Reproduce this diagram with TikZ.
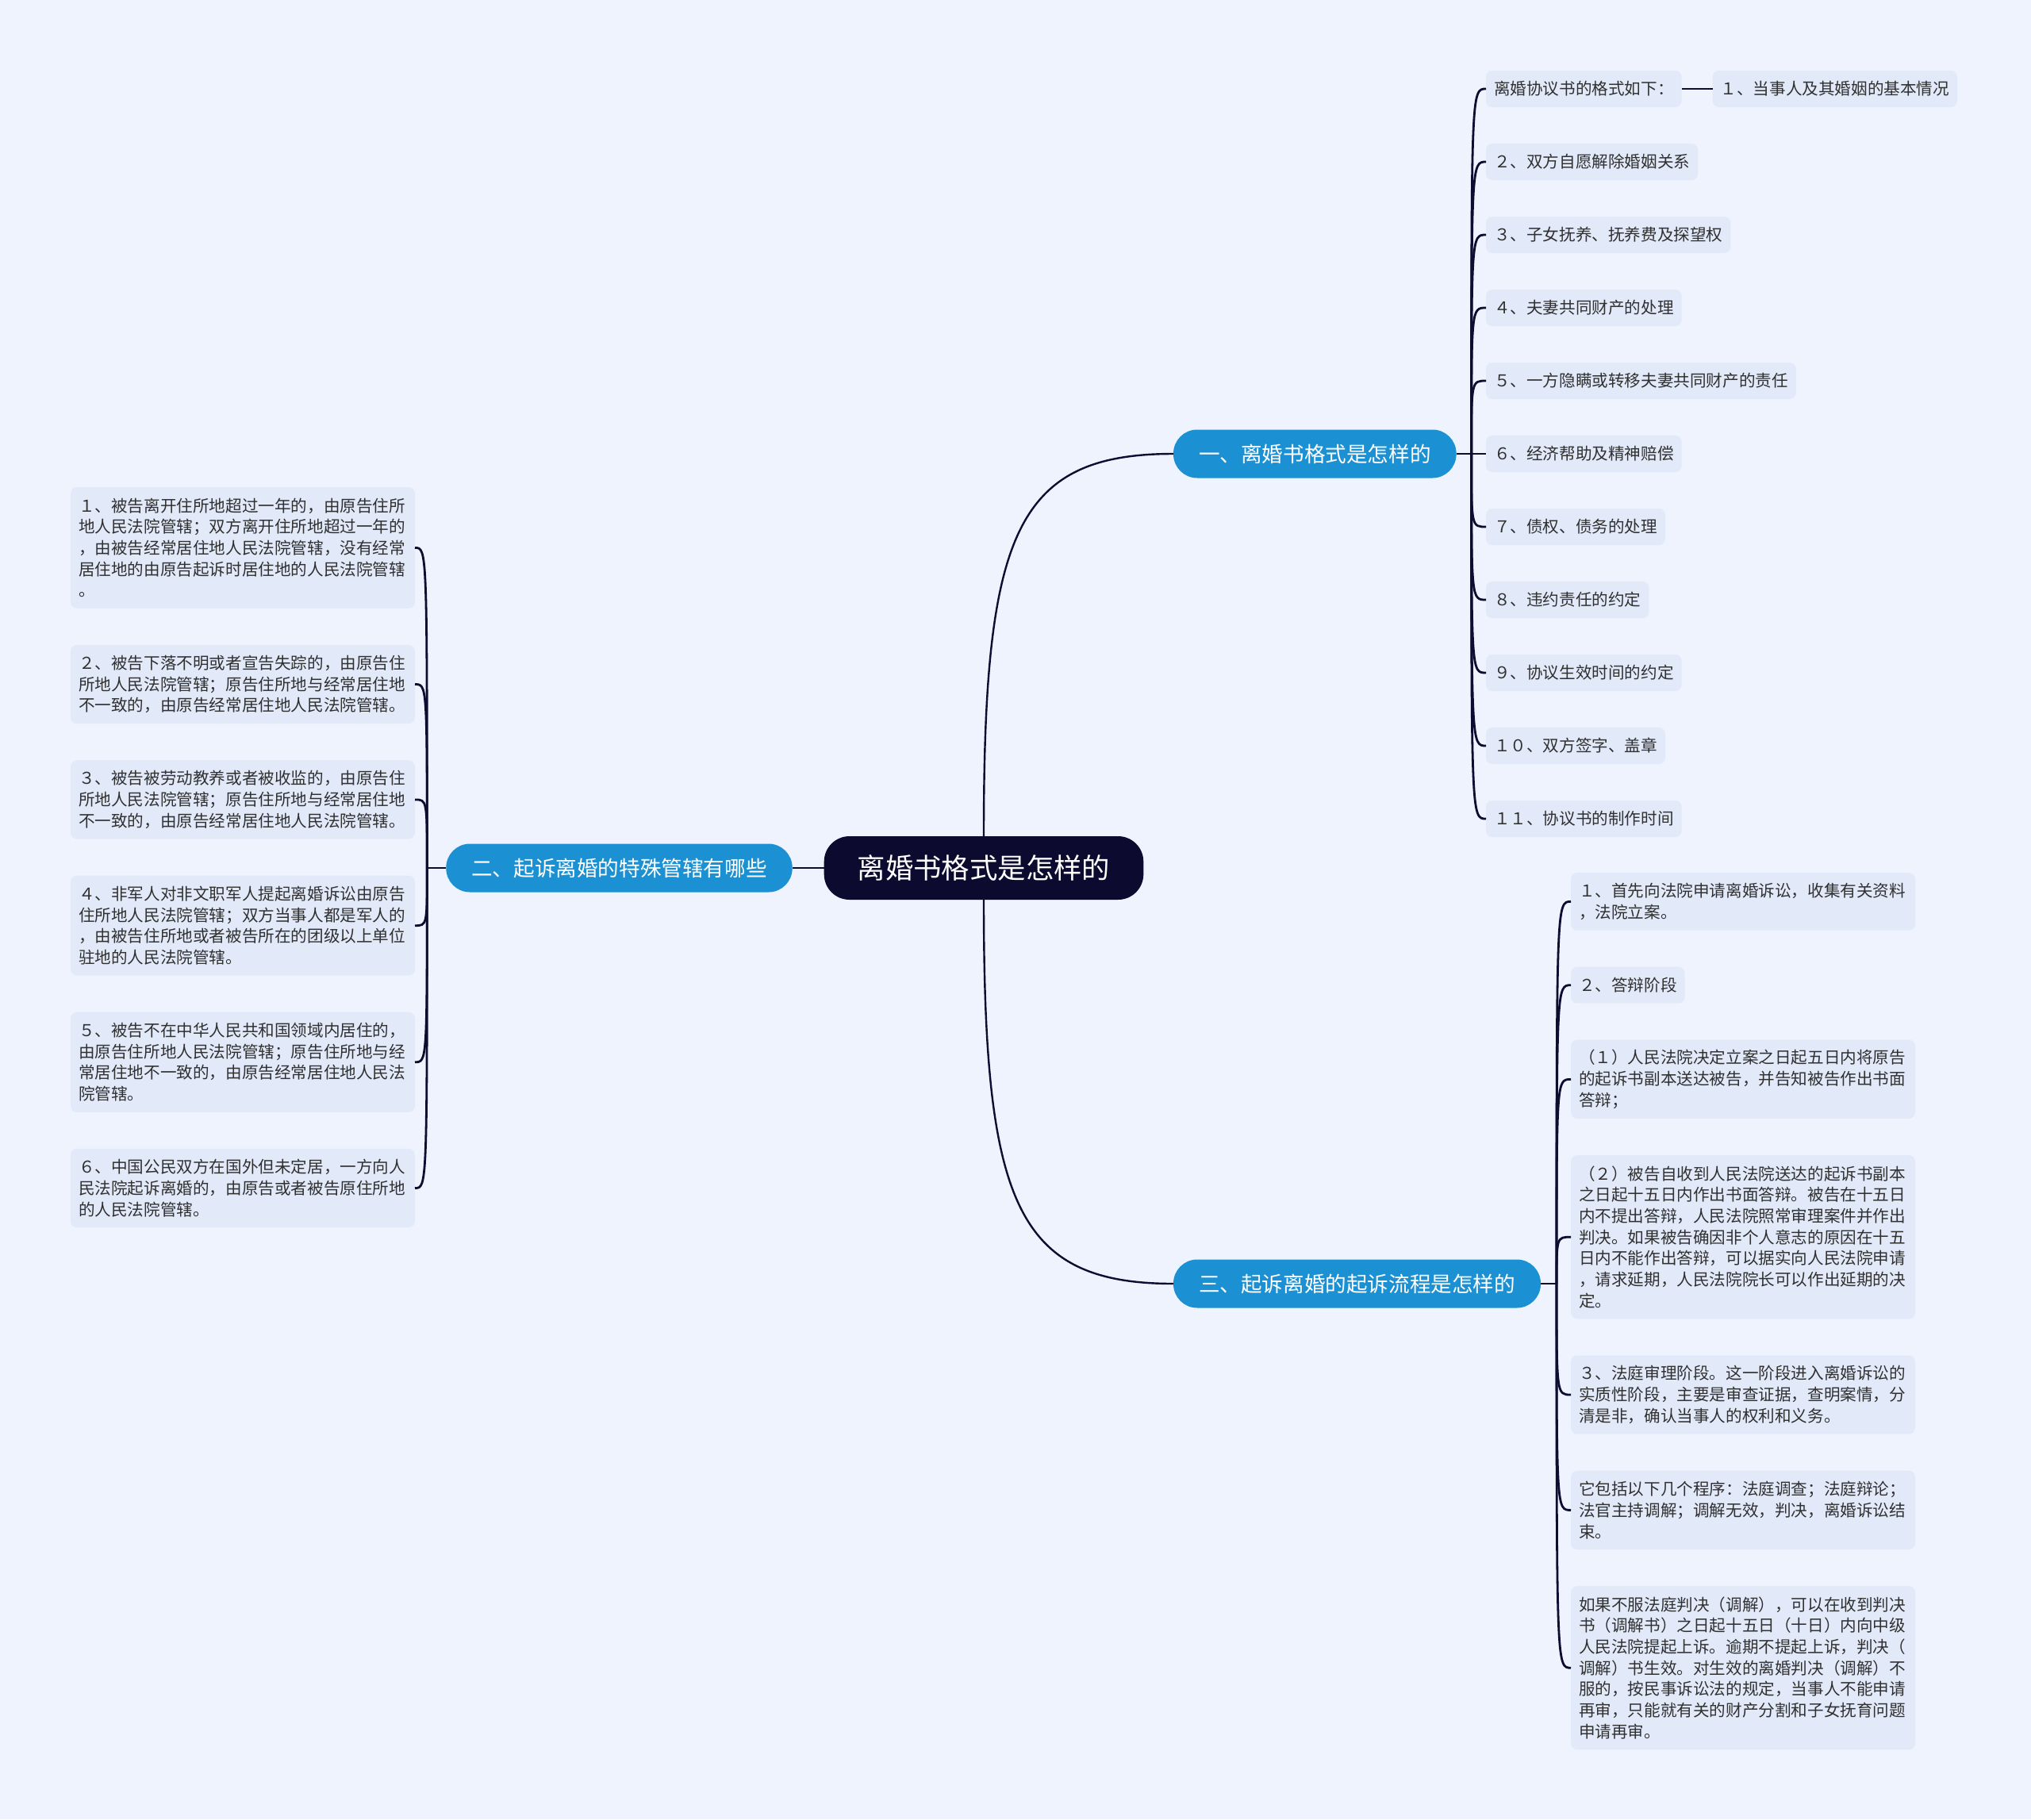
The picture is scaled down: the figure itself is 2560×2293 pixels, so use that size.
\documentclass[tikz,border=0pt]{standalone}
\usepackage{fontspec}
\newfontfamily\cjkfont{Noto Sans CJK SC}
\usetikzlibrary{positioning}
\definecolor{pagebg}{HTML}{EEF3FD}
\definecolor{leafbg}{HTML}{E2EAFA}
\definecolor{mainblue}{HTML}{1B90D2}
\definecolor{rootnavy}{HTML}{0C0A2E}
\definecolor{linknavy}{HTML}{0E0C30}
\definecolor{leaftext}{HTML}{303030}

\begin{document}
\begin{tikzpicture}[
  x=0.5pt, y=-0.5pt,
  node distance=23pt,
  rootbox/.style={fill=rootnavy, text=white, rounded corners=16pt, minimum height=40pt, inner xsep=21pt, inner ysep=0pt, outer sep=0pt, font=\cjkfont\fontsize{17.7}{20}\selectfont},
  topic/.style={fill=mainblue, text=white, rounded corners=15pt, minimum height=30.5pt, inner xsep=16pt, inner ysep=0pt, outer sep=0pt, font=\cjkfont\fontsize{13.3}{16}\selectfont},
  leafbox/.style={fill=leafbg, text=leaftext, rounded corners=4pt, inner xsep=5pt, inner ysep=2pt, outer sep=0pt, minimum height=23pt, font=\cjkfont\fontsize{10.3}{13.35}\selectfont},
  notebox/.style={leafbox, text width=207pt, align=left, minimum height={#1*13.35pt+9.65pt}},
  trunk/.style={draw=linknavy, line width=1.2pt},
  link/.style={draw=linknavy, line width=1.4pt}
]
\useasboundingbox[fill=pagebg] (0,0) rectangle (2560,2293);

% centre and main topics
\node[rootbox] (root) at (1240,1094) {离婚书格式是怎样的};
\node[topic, anchor=west] (b1) at (1479,572) {一、离婚书格式是怎样的};
\node[topic, left=20pt of root] (b2) {二、起诉离婚的特殊管辖有哪些};
\node[topic, anchor=west] (b3) at (1479,1618) {三、起诉离婚的起诉流程是怎样的};

% topic one
\node[leafbox, anchor=west] (fmt) at (1873,112) {离婚协议书的格式如下：};
\node[leafbox, right=19.5pt of fmt] (fmt1) {１、当事人及其婚姻的基本情况};
\node[leafbox, below=of fmt.south west, anchor=north west] (fmt2) {２、双方自愿解除婚姻关系};
\node[leafbox, below=of fmt2.south west, anchor=north west] (fmt3) {３、子女抚养、抚养费及探望权};
\node[leafbox, below=of fmt3.south west, anchor=north west] (fmt4) {４、夫妻共同财产的处理};
\node[leafbox, below=of fmt4.south west, anchor=north west] (fmt5) {５、一方隐瞒或转移夫妻共同财产的责任};
\node[leafbox, below=of fmt5.south west, anchor=north west] (fmt6) {６、经济帮助及精神赔偿};
\node[leafbox, below=of fmt6.south west, anchor=north west] (fmt7) {７、债权、债务的处理};
\node[leafbox, below=of fmt7.south west, anchor=north west] (fmt8) {８、违约责任的约定};
\node[leafbox, below=of fmt8.south west, anchor=north west] (fmt9) {９、协议生效时间的约定};
\node[leafbox, below=of fmt9.south west, anchor=north west] (fmt10) {１０、双方签字、盖章};
\node[leafbox, below=of fmt10.south west, anchor=north west] (fmt11) {１１、协议书的制作时间};

% topic two
\node[notebox=5, anchor=north east] (jur1) at (523,614) {１、被告离开住所地超过一年的，由原告住所\\地人民法院管辖；双方离开住所地超过一年的\\，由被告经常居住地人民法院管辖，没有经常\\居住地的由原告起诉时居住地的人民法院管辖\\。};
\node[notebox=3, below=of jur1.south east, anchor=north east] (jur2) {２、被告下落不明或者宣告失踪的，由原告住\\所地人民法院管辖；原告住所地与经常居住地\\不一致的，由原告经常居住地人民法院管辖。};
\node[notebox=3, below=of jur2.south east, anchor=north east] (jur3) {３、被告被劳动教养或者被收监的，由原告住\\所地人民法院管辖；原告住所地与经常居住地\\不一致的，由原告经常居住地人民法院管辖。};
\node[notebox=4, below=of jur3.south east, anchor=north east] (jur4) {４、非军人对非文职军人提起离婚诉讼由原告\\住所地人民法院管辖；双方当事人都是军人的\\，由被告住所地或者被告所在的团级以上单位\\驻地的人民法院管辖。};
\node[notebox=4, below=of jur4.south east, anchor=north east] (jur5) {５、被告不在中华人民共和国领域内居住的，\\由原告住所地人民法院管辖；原告住所地与经\\常居住地不一致的，由原告经常居住地人民法\\院管辖。};
\node[notebox=3, below=of jur5.south east, anchor=north east] (jur6) {６、中国公民双方在国外但未定居，一方向人\\民法院起诉离婚的，由原告或者被告原住所地\\的人民法院管辖。};

% topic three
\node[notebox=2, anchor=north west] (proc1) at (1980,1100) {１、首先向法院申请离婚诉讼，收集有关资料\\，法院立案。};
\node[leafbox, below=of proc1.south west, anchor=north west] (proc2) {２、答辩阶段};
\node[notebox=3, below=of proc2.south west, anchor=north west] (proc3) {（１）人民法院决定立案之日起五日内将原告\\的起诉书副本送达被告，并告知被告作出书面\\答辩；};
\node[notebox=7, below=of proc3.south west, anchor=north west] (proc4) {（２）被告自收到人民法院送达的起诉书副本\\之日起十五日内作出书面答辩。被告在十五日\\内不提出答辩，人民法院照常审理案件并作出\\判决。如果被告确因非个人意志的原因在十五\\日内不能作出答辩，可以据实向人民法院申请\\，请求延期，人民法院院长可以作出延期的决\\定。};
\node[notebox=3, below=of proc4.south west, anchor=north west] (proc5) {３、法庭审理阶段。这一阶段进入离婚诉讼的\\实质性阶段，主要是审查证据，查明案情，分\\清是非，确认当事人的权利和义务。};
\node[notebox=3, below=of proc5.south west, anchor=north west] (proc6) {它包括以下几个程序：法庭调查；法庭辩论；\\法官主持调解；调解无效，判决，离婚诉讼结\\束。};
\node[notebox=7, below=of proc6.south west, anchor=north west] (proc7) {如果不服法庭判决（调解），可以在收到判决\\书（调解书）之日起十五日（十日）内向中级\\人民法院提起上诉。逾期不提起上诉，判决（\\调解）书生效。对生效的离婚判决（调解）不\\服的，按民事诉讼法的规定，当事人不能申请\\再审，只能就有关的财产分割和子女抚育问题\\申请再审。};

% junctions
\coordinate (j1) at ([xshift=9.5pt]b1.east);
\coordinate (j2) at ([xshift=-12pt]b2.west);
\coordinate (j3) at ([xshift=10pt]b3.east);

% connectors
\draw[trunk] (root.north) .. controls +(0,-380) and +(-200,0) .. (b1.west);
\draw[trunk] (root.south) .. controls +(0,380) and +(-200,0) .. (b3.west);
\draw[trunk] (root) -- (b2);
\draw[link] (b1) -- (j1);
\draw[link] (b2) -- (j2);
\draw[link] (b3) -- (j3);
\draw[link] (fmt) -- (fmt1);
\draw[link] (j1) .. controls (j1 |- fmt.west) .. (fmt.west);
\draw[link] (j1) .. controls (j1 |- fmt2.west) .. (fmt2.west);
\draw[link] (j1) .. controls (j1 |- fmt3.west) .. (fmt3.west);
\draw[link] (j1) .. controls (j1 |- fmt4.west) .. (fmt4.west);
\draw[link] (j1) .. controls (j1 |- fmt5.west) .. (fmt5.west);
\draw[link] (j1) -- (fmt6.west);
\draw[link] (j1) .. controls (j1 |- fmt7.west) .. (fmt7.west);
\draw[link] (j1) .. controls (j1 |- fmt8.west) .. (fmt8.west);
\draw[link] (j1) .. controls (j1 |- fmt9.west) .. (fmt9.west);
\draw[link] (j1) .. controls (j1 |- fmt10.west) .. (fmt10.west);
\draw[link] (j1) .. controls (j1 |- fmt11.west) .. (fmt11.west);
\draw[link] (j2) .. controls (j2 |- jur1.east) .. (jur1.east);
\draw[link] (j2) .. controls (j2 |- jur2.east) .. (jur2.east);
\draw[link] (j2) .. controls (j2 |- jur3.east) .. (jur3.east);
\draw[link] (j2) .. controls (j2 |- jur4.east) .. (jur4.east);
\draw[link] (j2) .. controls (j2 |- jur5.east) .. (jur5.east);
\draw[link] (j2) .. controls (j2 |- jur6.east) .. (jur6.east);
\draw[link] (j3) .. controls (j3 |- proc1.west) .. (proc1.west);
\draw[link] (j3) .. controls (j3 |- proc2.west) .. (proc2.west);
\draw[link] (j3) .. controls (j3 |- proc3.west) .. (proc3.west);
\draw[link] (j3) .. controls (j3 |- proc4.west) .. (proc4.west);
\draw[link] (j3) .. controls (j3 |- proc5.west) .. (proc5.west);
\draw[link] (j3) .. controls (j3 |- proc6.west) .. (proc6.west);
\draw[link] (j3) .. controls (j3 |- proc7.west) .. (proc7.west);
\end{tikzpicture}
\end{document}
